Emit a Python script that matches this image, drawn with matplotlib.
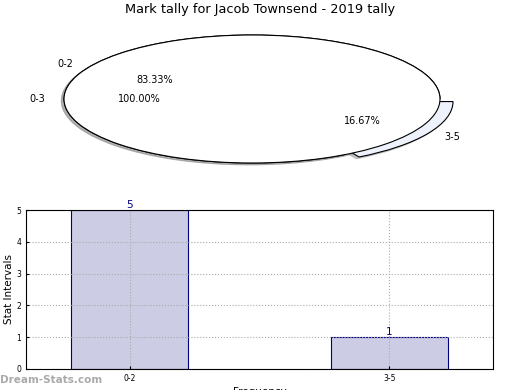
import matplotlib
matplotlib.use("Agg")
import matplotlib.pyplot as plt

# data
inner_labels = ["0-2", "3-5"]
inner_counts = [5, 1]
outer_labels = ["0-3"]
outer_counts = [6]
title = "Mark tally for Jacob Townsend - 2019 tally"

fig = plt.figure(figsize=(5.2, 3.9), dpi=100)

# pie part (stretched, not equal aspect)
shadow = dict(ox=-0.01, oy=-0.02, shade=0.4)
ax1 = fig.add_axes([17/520, 1 - 179/390, 470/520, 160/390])
ax1.pie(inner_counts, labels=inner_labels, autopct="%.2f%%", explode=[0, 0.08],
        colors=["white", "#eef2fc"], shadow=shadow, startangle=0,
        wedgeprops=dict(edgecolor="black", linewidth=0.8),
        textprops=dict(fontsize=7))
ax1.pie(outer_counts, labels=outer_labels, autopct="%.2f%%",
        colors=["white"], shadow=shadow, startangle=0,
        wedgeprops=dict(edgecolor="black", linewidth=0.8),
        textprops=dict(fontsize=7))
ax1.set_aspect("auto")
ax1.set_xlim(-1.25, 1.25)
ax1.set_ylim(-1.25, 1.25)

fig.text(0.5, 1 - 10/390, title, ha="center", va="center", fontsize=9.3)

# bar part
ax2 = fig.add_axes([26/520, 1 - 369/390, 467/520, 159/390])
pos = list(range(len(inner_labels)))
bars = ax2.bar(pos, inner_counts, width=0.45, color="#ccccE4", edgecolor="#000080", linewidth=0.8)
for b, v in zip(bars, inner_counts):
    ax2.text(b.get_x() + b.get_width()/2, v, str(v), ha="center", va="bottom",
             color="#000080", fontsize=7.5)
ax2.set_xticks(pos)
ax2.set_xticklabels(inner_labels)
ax2.set_xlim(-0.4, 1.4)
ax2.set_ylim(0, 5)
ax2.grid(True, linestyle=":", color="#aaaaaa", linewidth=0.8)
ax2.set_axisbelow(False)
for s in ax2.spines.values():
    s.set_zorder(5)
ax2.tick_params(labelsize=5.5, direction="in", length=2)
ax2.set_ylabel("Stat Intervals", fontsize=7.5)
ax2.yaxis.set_label_coords(-0.026, 0.5)
ax2.set_xlabel("Frequency", fontsize=7.5, labelpad=3)

fig.text(0, 1 - 380/390, "Dream-Stats.com", ha="left", va="center", fontsize=7.5,
         color="#aaaaaa", fontweight="bold")

fig.savefig("out.png", dpi=100)
